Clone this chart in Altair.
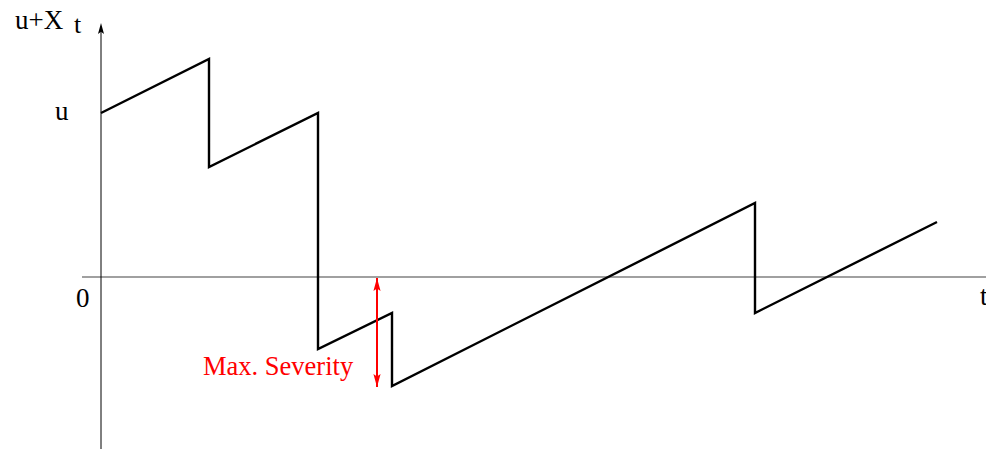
import altair as alt
import pandas as pd

# Risk process u + X_t : (time, level) at each vertex of the sample path
path_t = [0.0, 10.8, 10.8, 21.7, 21.7, 29.1, 29.1, 65.4, 65.4, 83.6]
path_v = [16.4, 21.8, 11.0, 16.4, -7.2, -3.6, -10.9, 7.4, -3.6, 5.5]

# Maximum severity of ruin (deficit reached), shown as a double arrow
sev_t = 27.6
sev_top = -0.1
sev_bottom = -11.0

# Axis extents
x_min, x_max = -9.3, 88.5
y_min, y_max = -17.2, 26.9
hax_start = -1.9
vax_top = 25.4

# Text labels
lab_text = ["u+X", "t", "u", "0", "t"]
lab_t = [-8.6, -2.7, -4.6, -2.5, 87.9]
lab_v = [24.8, 24.4, 15.7, -3.0, -2.8]
lab_size = [27, 26, 27, 27, 27]
sev_label = "Max. Severity"
sev_label_t = 10.2
sev_label_v = -9.8

FONT = "Liberation Serif"

xs = alt.Scale(domain=[x_min, x_max], nice=False, zero=False)
ys = alt.Scale(domain=[y_min, y_max], nice=False, zero=False)
X = lambda f: alt.X(f, type="quantitative", scale=xs, axis=None)
Y = lambda f: alt.Y(f, type="quantitative", scale=ys, axis=None)

path_df = pd.DataFrame({"t": path_t, "v": path_v, "i": list(range(len(path_t)))})
path = alt.Chart(path_df).mark_line(color="black", strokeWidth=2.4, strokeJoin="miter").encode(
    x=X("t"), y=Y("v"), order="i:Q"
)

hax = alt.Chart(pd.DataFrame({"a": [hax_start], "b": [x_max], "v": [0.0]})).mark_rule(
    color="#808080", strokeWidth=1.5
).encode(x=X("a"), x2="b", y=Y("v"))

vax = alt.Chart(pd.DataFrame({"t": [0.0], "a": [y_min], "b": [vax_top - 0.8]})).mark_rule(
    color="black", strokeWidth=1
).encode(x=X("t"), y=Y("a"), y2="b")

up_head = "M0,0L-0.55,2L0,1.6L0.55,2Z"
down_head = "M0,0L-0.55,-2L0,-1.6L0.55,-2Z"

vax_head = alt.Chart(pd.DataFrame({"t": [0.0], "v": [vax_top]})).mark_point(
    shape=up_head, filled=True, color="black", size=121, opacity=1, strokeWidth=0
).encode(x=X("t"), y=Y("v"))

sev_df = pd.DataFrame({"t": [sev_t], "a": [sev_top], "b": [sev_bottom]})
sev_rule = alt.Chart(sev_df).mark_rule(color="red", strokeWidth=2).encode(
    x=X("t"), y=Y("a"), y2="b"
)
sev_up = alt.Chart(pd.DataFrame({"t": [sev_t], "v": [sev_top]})).mark_point(
    shape=up_head, filled=True, color="red", size=169, opacity=1, strokeWidth=0
).encode(x=X("t"), y=Y("v"))
sev_down = alt.Chart(pd.DataFrame({"t": [sev_t], "v": [sev_bottom]})).mark_point(
    shape=down_head, filled=True, color="red", size=169, opacity=1, strokeWidth=0
).encode(x=X("t"), y=Y("v"))

labels = alt.Chart(
    pd.DataFrame({"s": lab_text, "t": lab_t, "v": lab_v, "fs": lab_size})
).mark_text(
    font=FONT, color="black", align="left", baseline="alphabetic"
).encode(
    x=X("t"), y=Y("v"), text="s:N",
    size=alt.Size("fs:Q", scale=None, legend=None),
)

sev_text = alt.Chart(pd.DataFrame({"s": [sev_label], "t": [sev_label_t], "v": [sev_label_v]})).mark_text(
    font=FONT, fontSize=26.5, color="red", align="left", baseline="alphabetic"
).encode(x=X("t"), y=Y("v"), text="s:N")

chart = alt.layer(
    hax, vax, vax_head, path, sev_rule, sev_up, sev_down, labels, sev_text
).properties(
    width=978, height=441, padding=0,
    autosize=alt.AutoSizeParams(type="none"),
).configure_view(stroke=None)

chart.save("out.html", embed_options={"renderer": "svg", "actions": False})
